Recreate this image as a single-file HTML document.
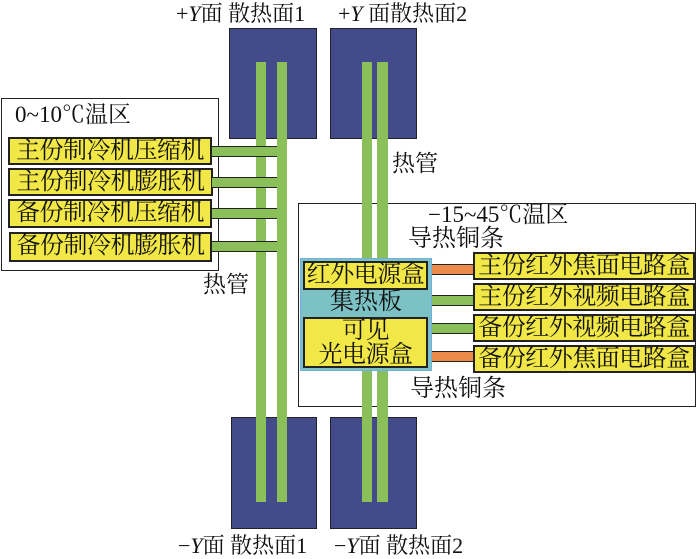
<!DOCTYPE html>
<html><head><meta charset="utf-8"><style>
body{margin:0;width:700px;height:559px;background:#fff;position:relative;overflow:hidden;font-family:"Liberation Serif","Noto Serif CJK SC",serif;color:#111}
div{position:absolute;box-sizing:border-box}
.rad{background:#434b8a;border:1.5px solid #222}
.pipe{background:#8bbf5a}
.y{background:#f1e746;border:2px solid #222;font-size:24px;line-height:25px;text-align:center;white-space:nowrap;letter-spacing:-0.5px}
.bar{border-top:1.5px solid #222;border-bottom:1.5px solid #222}
.t{font-size:22px;white-space:nowrap;line-height:24px}
</style></head><body>
<div class="t" style="left:176px;top:2px">+<i>Y</i>面 散热面1</div>
<div class="t" style="left:338px;top:2px">+<i>Y</i> 面散热面2</div>
<div class="t" style="left:178px;top:534px">−<i>Y</i>面 散热面1</div>
<div class="t" style="left:334px;top:534px">−<i>Y</i>面 散热面2</div>

<div class="rad" style="left:229px;top:28px;width:88px;height:111px"></div>
<div class="rad" style="left:330px;top:28px;width:87px;height:111px"></div>
<div class="rad" style="left:231px;top:417px;width:86px;height:112px"></div>
<div class="rad" style="left:330px;top:417px;width:87px;height:112px"></div>

<div style="left:1px;top:98px;width:218px;height:173px;border:1.5px solid #222;background:#fff"></div>
<div class="t" style="left:15px;top:103px;font-size:23px">0~10℃温区</div>
<div style="left:298px;top:203px;width:398px;height:204px;border:1.5px solid #222;background:#fff"></div>

<div class="pipe" style="left:256px;top:62px;width:10px;height:440px"></div>
<div class="pipe" style="left:277px;top:62px;width:10px;height:440px"></div>
<div class="pipe" style="left:362px;top:62px;width:10px;height:440px"></div>
<div class="pipe" style="left:377px;top:62px;width:11px;height:440px"></div>

<div class="y" style="left:8px;top:137px;width:204px;height:28px">主份制冷机压缩机</div>
<div class="y" style="left:8px;top:168px;width:205px;height:28px">主份制冷机膨胀机</div>
<div class="y" style="left:8px;top:199px;width:204px;height:29px">备份制冷机压缩机</div>
<div class="y" style="left:9px;top:232px;width:203px;height:30px">备份制冷机膨胀机</div>
<div class="bar pipe" style="left:212px;top:146px;width:65px;height:11px"></div>
<div class="bar pipe" style="left:212px;top:177px;width:65px;height:11px"></div>
<div class="bar pipe" style="left:212px;top:208px;width:65px;height:11px"></div>
<div class="bar pipe" style="left:212px;top:241px;width:65px;height:11px"></div>

<div class="t" style="left:392px;top:152px;font-size:23px">热管</div>
<div class="t" style="left:203px;top:273px;font-size:23px">热管</div>
<div class="t" style="left:428px;top:203px;font-size:23px">−15~45℃温区</div>
<div class="t" style="left:408px;top:227px;font-size:24px">导热铜条</div>
<div class="t" style="left:410px;top:377px;font-size:24px">导热铜条</div>

<div style="left:300px;top:258px;width:132px;height:113px;background:#7cc2c4;border:1.5px solid #6fb0e0"></div>
<div class="y" style="left:303px;top:261px;width:125px;height:29px">红外电源盒</div>
<div class="t" style="left:330px;top:290px;font-size:24px">集热板</div>
<div class="y" style="left:303px;top:317px;width:125px;height:51px;line-height:24px">可见<br>光电源盒</div>

<div class="bar" style="left:432px;top:264px;width:41px;height:11px;background:#ec8a4c"></div>
<div class="bar pipe" style="left:432px;top:295px;width:41px;height:11px"></div>
<div class="bar pipe" style="left:432px;top:323px;width:41px;height:11px"></div>
<div class="bar" style="left:432px;top:351px;width:41px;height:11px;background:#ec8a4c"></div>

<div class="y" style="left:473px;top:252px;width:222px;height:28px">主份红外焦面电路盒</div>
<div class="y" style="left:473px;top:283px;width:222px;height:28px">主份红外视频电路盒</div>
<div class="y" style="left:473px;top:314px;width:222px;height:28px">备份红外视频电路盒</div>
<div class="y" style="left:473px;top:345px;width:222px;height:28px">备份红外焦面电路盒</div>
</body></html>
